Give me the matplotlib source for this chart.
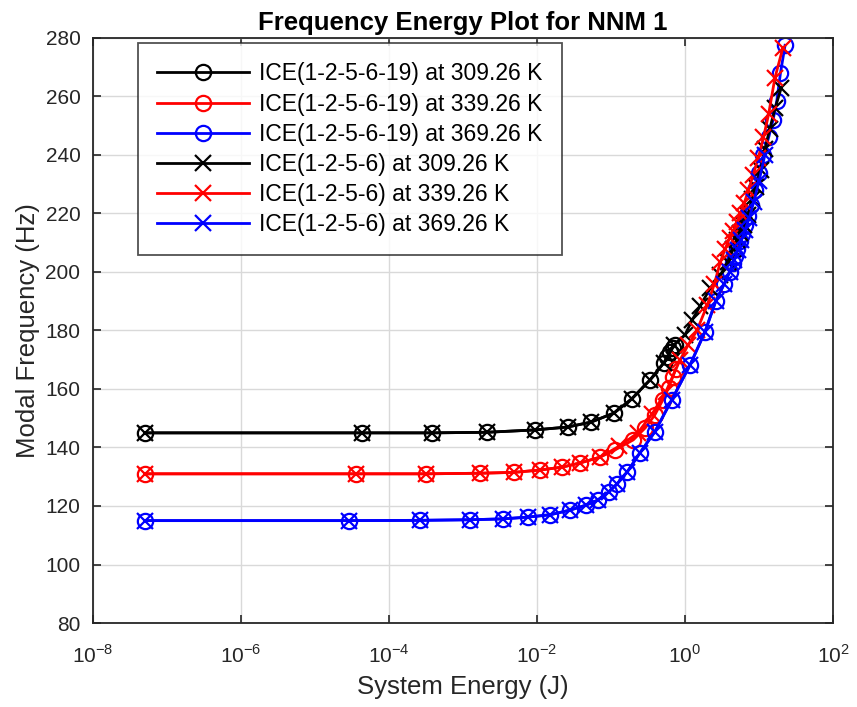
import matplotlib.pyplot as plt
import numpy as np

plt.rcParams['font.family'] = ['Liberation Sans', 'DejaVu Sans']
plt.rcParams['mathtext.fontset'] = 'custom'
plt.rcParams['mathtext.rm'] = 'Liberation Sans'

# ICE(1-2-5-6-19) series (circles)
e_c_309 = [5e-8, 4.3e-5, 3.8e-4, 2.1e-3, 9.3e-3, 0.026, 0.054, 0.11, 0.19, 0.34, 0.52, 0.58, 0.63, 0.68, 0.74]
f_c_309 = [145, 145, 145, 145.2, 146, 147, 148.7, 151.8, 156.6, 163.2, 169, 171, 172.5, 174, 175]

e_c_339 = [5e-8, 3.6e-5, 3.2e-4, 1.7e-3, 4.9e-3, 0.011, 0.022, 0.038, 0.071, 0.112, 0.2, 0.29, 0.39, 0.5, 0.6, 0.68, 0.75]
f_c_339 = [131, 131, 131, 131.2, 131.5, 132.3, 133.3, 134.7, 136.7, 139.1, 142.6, 146.7, 151.1, 156.2, 160.5, 164, 167]

e_c_369 = [5e-8, 2.9e-5, 2.6e-4, 1.25e-3, 3.5e-3, 7.5e-3, 0.015, 0.028, 0.046, 0.066, 0.093, 0.12, 0.165,
           0.245, 0.39, 0.66, 1.17, 1.86, 2.6, 3.4, 4.0, 4.4, 4.8, 5.1, 5.5, 5.9, 6.4, 7.0, 7.8, 8.8,
           10.0, 11.5, 13.5, 15.5, 17.4, 19.5, 22.5]
f_c_369 = [115, 115, 115.1, 115.3, 115.6, 116.2, 117, 118.6, 120.3, 122, 124.8, 127.5, 131.6,
           138.1, 145.3, 156.2, 168.2, 179.5, 190, 196, 200, 203, 205.5, 208, 210.5, 213, 216, 219, 223, 228,
           234, 240, 246, 252, 258.5, 268, 277.5]

# ICE(1-2-5-6) series (crosses)
e_x_309 = [5e-8, 4.3e-5, 3.8e-4, 2.1e-3, 9.3e-3, 0.026, 0.054, 0.11, 0.19, 0.34, 0.52, 0.7, 1.0, 1.25, 1.6,
           2.2, 3.0, 3.8, 4.5, 5.0, 5.5, 6.2, 7.1, 8.0, 9.0, 10.5, 12.0, 14.0, 16.5, 20.0]
f_x_309 = [145, 145, 145, 145.2, 146, 147, 148.7, 151.8, 156.6, 163.2, 169, 175, 178.5, 183.6, 188.4,
           194.5, 199, 203.4, 208, 211, 213.3, 216, 219.5, 225, 229, 235, 242, 249, 256, 263]

e_x_339 = [5e-8, 3.6e-5, 3.2e-4, 1.7e-3, 4.9e-3, 0.011, 0.022, 0.038, 0.071, 0.13, 0.23, 0.36, 0.55, 0.86,
           1.1, 1.45, 2.0, 2.5, 3.0, 3.5, 4.0, 4.5, 5.0, 5.6, 6.3, 7.2, 8.3, 9.8, 11.5, 13.5, 16.4, 21.0]
f_x_339 = [131, 131, 131, 131.2, 131.5, 132.3, 133.3, 134.7, 136.7, 140.5, 145, 151.5, 159, 170,
           175, 180, 188.7, 196, 203.4, 208, 211.6, 214, 217, 220, 223.5, 228, 233, 239, 246, 254, 266.3, 276.6]

e_x_369 = [5e-8, 2.9e-5, 2.6e-4, 1.25e-3, 3.5e-3, 7.5e-3, 0.015, 0.028, 0.046, 0.066, 0.093, 0.12, 0.165,
           0.245, 0.39, 0.66, 1.17, 1.86, 2.6, 3.4, 4.0, 4.6, 5.2, 5.8, 6.5, 7.4, 8.5, 10.0, 12.0]
f_x_369 = [115, 115, 115.1, 115.3, 115.6, 116.2, 117, 118.6, 120.3, 122, 124.8, 127.5, 131.6,
           138.1, 145.3, 156.2, 168.2, 179.5, 190, 196, 200, 204, 207.5, 211, 214.5, 218.5, 224, 231, 240]

labels = ['ICE(1-2-5-6-19) at 309.26 K', 'ICE(1-2-5-6-19) at 339.26 K', 'ICE(1-2-5-6-19) at 369.26 K',
          'ICE(1-2-5-6) at 309.26 K', 'ICE(1-2-5-6) at 339.26 K', 'ICE(1-2-5-6) at 369.26 K']

fig = plt.figure(figsize=(8.57, 7.07), dpi=100)
ax = fig.add_axes([0.1085, 0.1188, 0.8635, 0.8275])

series = [(e_c_309, f_c_309, 'k', 'o'), (e_c_339, f_c_339, 'r', 'o'), (e_c_369, f_c_369, 'b', 'o'),
          (e_x_309, f_x_309, 'k', 'x'), (e_x_339, f_x_339, 'r', 'x'), (e_x_369, f_x_369, 'b', 'x')]
for (e, f, c, m), lab in zip(series, labels):
    ax.plot(e, f, color=c, marker=m, markersize=11, markerfacecolor='none',
            markeredgewidth=1.6, linewidth=2, label=lab)

ax.set_xscale('log')
ax.set_xlim(1e-8, 1e2)
ax.set_ylim(80, 280)
ax.set_xticks([1e-8, 1e-6, 1e-4, 1e-2, 1e0, 1e2])
ax.set_xticklabels(['$10^{-8}$', '$10^{-6}$', '$10^{-4}$', '$10^{-2}$', '$10^{0}$', '$10^{2}$'])
ax.xaxis.set_minor_locator(plt.NullLocator())
ax.set_yticks(np.arange(80, 281, 20))
ax.tick_params(direction='in', length=6, width=1.2, labelsize=15, top=True, right=True, colors='#262626')
ax.tick_params(axis='x', pad=15)
ax.tick_params(axis='y', pad=9)
ax.grid(True, color='#d9d9d9', linewidth=1)
ax.set_axisbelow(True)
for s in ax.spines.values():
    s.set_linewidth(1.3)
    s.set_color('#262626')

ax.set_title('Frequency Energy Plot for NNM 1', fontsize=18.5, fontweight='bold', pad=6)
ax.set_xlabel('System Energy (J)', fontsize=18.5, color='#262626', labelpad=6)
ax.set_ylabel('Modal Frequency (Hz)', fontsize=18.5, color='#262626', labelpad=4)

leg = ax.legend(loc='upper left', bbox_to_anchor=(0.0608, 0.9915), fontsize=16.5, frameon=True,
                fancybox=False, edgecolor='#262626', handlelength=4.0, handletextpad=0.45,
                labelspacing=0.31, borderpad=0.85, borderaxespad=0)
leg.get_frame().set_linewidth(1.3)

fig.savefig('out.png', dpi=100)
